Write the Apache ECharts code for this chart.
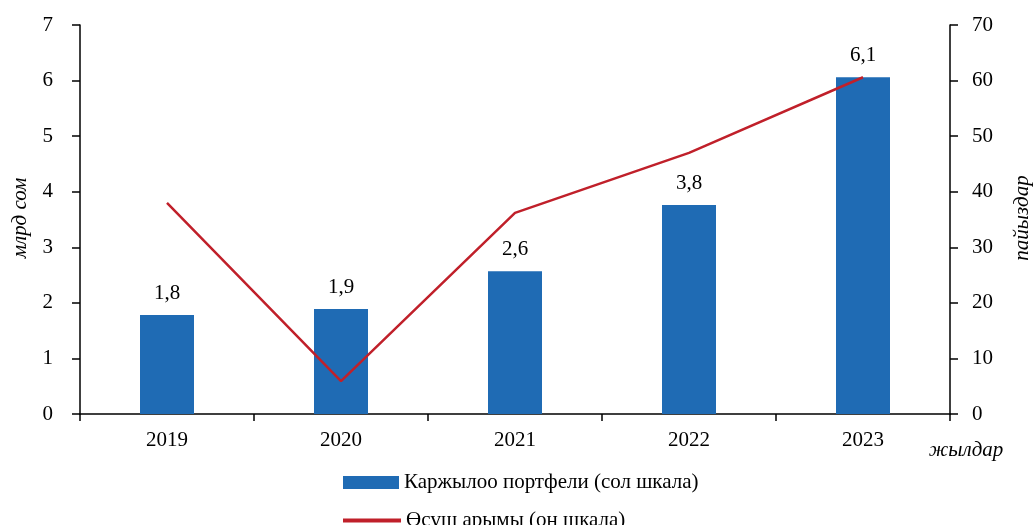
<!DOCTYPE html>
<html>
<head>
<meta charset="utf-8">
<script src="https://cdn.jsdelivr.net/npm/echarts@6/dist/echarts.min.js"></script>
<style>
  html, body { margin: 0; padding: 0; background: #fff; }
  #chart { width: 1035px; height: 525px; }
</style>
</head>
<body>
<div id="chart"></div>
<script>
    var years = ['2019', '2020', '2021', '2022', '2023'];
    var portfolio = [1.78, 1.89, 2.57, 3.76, 6.06];
    var portfolioLabels = ['1,8', '1,9', '2,6', '3,8', '6,1'];
    var growth = [38.0, 5.9, 36.2, 47.0, 60.6];

    var FONT = '"Liberation Serif", "DejaVu Serif", serif';
    var FS = 21;
    var axisLine = { show: true, lineStyle: { color: '#000', width: 1.5 } };
    var legendText = { fontFamily: FONT, fontSize: FS, color: '#000' };

    var chart = echarts.init(document.getElementById('chart'));
    chart.setOption({
        animation: false,
        textStyle: { fontFamily: FONT },
        grid: { left: 80, right: 85, top: 25, bottom: 111 },
        legend: [
            {
                left: 338, top: 467,
                itemWidth: 56, itemHeight: 13, itemGap: 10,
                textStyle: legendText,
                data: [{ name: 'Каржылоо портфели (сол шкала)', icon: 'rect' }]
            },
            {
                left: 338, top: 505,
                itemWidth: 58, itemHeight: 4,
                textStyle: legendText,
                data: [{ name: 'Өсүш арымы (оң шкала)', icon: 'rect', itemStyle: { color: '#c0202a' } }]
            }
        ],
        xAxis: {
            type: 'category',
            data: years,
            axisLine: axisLine,
            axisTick: { show: true, length: 7, lineStyle: { color: '#000', width: 1.5 } },
            axisLabel: { fontFamily: FONT, fontSize: FS, color: '#000', margin: 16 }
        },
        yAxis: [
            {
                type: 'value', min: 0, max: 7, interval: 1,
                axisLine: axisLine,
                axisTick: { show: true, length: 8, lineStyle: { color: '#000', width: 1.5 } },
                splitLine: { show: false },
                axisLabel: { fontFamily: FONT, fontSize: FS, color: '#000', margin: 27 }
            },
            {
                type: 'value', min: 0, max: 70, interval: 10, position: 'right',
                axisLine: axisLine,
                axisTick: { show: true, length: 8, lineStyle: { color: '#000', width: 1.5 } },
                splitLine: { show: false },
                axisLabel: { fontFamily: FONT, fontSize: FS, color: '#000', margin: 22 }
            }
        ],
        series: [
            {
                name: 'Каржылоо портфели (сол шкала)',
                type: 'bar',
                data: portfolio,
                barWidth: 54,
                itemStyle: { color: '#1f6bb4' },
                label: {
                    show: true, position: 'top', distance: 11,
                    fontFamily: FONT, fontSize: FS, color: '#000',
                    formatter: function (p) { return portfolioLabels[p.dataIndex]; }
                }
            },
            {
                name: 'Өсүш арымы (оң шкала)',
                type: 'line',
                yAxisIndex: 1,
                data: growth,
                symbol: 'none',
                lineStyle: { color: '#c0202a', width: 2.5 },
                itemStyle: { color: '#c0202a' }
            }
        ],
        graphic: [
            { type: 'text', x: 20, y: 218, rotation: Math.PI / 2,
              style: { text: 'млрд сом', font: 'italic ' + FS + 'px ' + FONT, fill: '#000', align: 'center', verticalAlign: 'middle' } },
            { type: 'text', x: 1022, y: 218, rotation: Math.PI / 2,
              style: { text: 'пайыздар', font: 'italic ' + FS + 'px ' + FONT, fill: '#000', align: 'center', verticalAlign: 'middle' } },
            { type: 'text', x: 966, y: 450,
              style: { text: 'жылдар', font: 'italic ' + FS + 'px ' + FONT, fill: '#000', align: 'center', verticalAlign: 'middle' } }
        ]
    });
</script>
</body>
</html>
